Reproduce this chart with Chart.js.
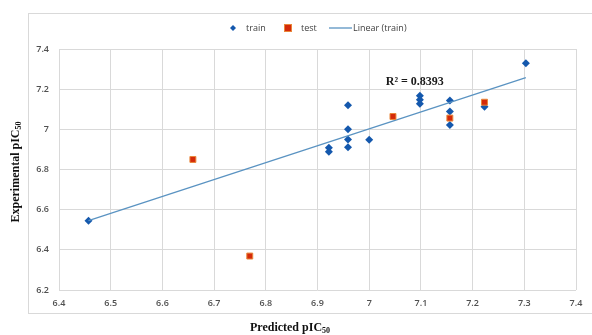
<!DOCTYPE html>
<html>
<head>
<meta charset='utf-8' />
<title>pIC50 scatter</title>
<script src="https://cdn.jsdelivr.net/npm/chart.js"></script>
<style>
body { margin:0; padding:0; background:#fff; overflow:hidden; }
#scatter { display:block; }
</style>
</head>
<body>
<canvas id="scatter" width="592" height="335"></canvas>
<script>

// ---- data ----
const trainX = [6.457, 6.922, 6.922, 6.959, 6.959, 6.959, 6.959, 7.000, 7.098, 7.098, 7.098, 7.156, 7.156, 7.156, 7.223, 7.303];
const trainY = [6.545, 6.908, 6.888, 7.120, 7.001, 6.950, 6.911, 6.948, 7.167, 7.147, 7.127, 7.144, 7.089, 7.022, 7.112, 7.329];

const testX = [6.659, 6.769, 7.046, 7.156, 7.223];
const testY = [6.850, 6.369, 7.064, 7.056, 7.135];

// trendline end points (Linear (train))
const trendX = [6.457, 7.303];
const trendY = [6.545, 7.258];

const xTicks = [6.4, 6.5, 6.6, 6.7, 6.8, 6.9, 7, 7.1, 7.2, 7.3, 7.4];
const yTicks = [6.2, 6.4, 6.6, 6.8, 7, 7.2, 7.4];

const legendLabels = ['train', 'test', 'Linear (train)'];
const r2Text = 'R² = 0.8393';

const toPts = (xs, ys) => xs.map((x, i) => ({x: x, y: ys[i]}));

const trainColor = '#1458ad';
const testFill = '#d42a0a';
const testBorder = '#e9873a';
const lineColor = '#5a93c2';
const tickColor = '#505050';
const gridColor = '#d9d9d9';

/*************************************************/
/* extra drawing: frame, legend, titles, R2      */
/*************************************************/

const drawDiamond = (ctx, x, y, r) => {
  ctx.beginPath();
  ctx.moveTo(x, y - r);
  ctx.lineTo(x + r, y);
  ctx.lineTo(x, y + r);
  ctx.lineTo(x - r, y);
  ctx.closePath();
  ctx.fillStyle = trainColor;
  ctx.fill();
};

const drawSquare = (ctx, x, y, r) => {
  ctx.fillStyle = testFill;
  ctx.fillRect(x - r, y - r, r * 2, r * 2);
  ctx.strokeStyle = testBorder;
  ctx.lineWidth = 1;
  ctx.strokeRect(x - r, y - r, r * 2, r * 2);
};

const drawSubText = (ctx, main, sub, x, y, size) => {
  // draws main + subscript, starting at x (left aligned), baseline y
  ctx.font = 'bold ' + size + 'px "Liberation Serif"';
  ctx.fillText(main, x, y);
  const w = ctx.measureText(main).width;
  ctx.font = 'bold ' + Math.round(size * 0.68) + 'px "Liberation Serif"';
  ctx.fillText(sub, x + w, y + 2);
  return w + ctx.measureText(sub).width;
};

const extras = {
  id: 'extras',
  beforeDraw(chart) {
    const ctx = chart.ctx;
    ctx.save();
    ctx.fillStyle = '#fff';
    ctx.fillRect(0, 0, chart.width, chart.height);
    ctx.strokeStyle = gridColor;
    ctx.lineWidth = 1;
    ctx.strokeRect(28.5, 13.5, 600, 300);
    ctx.restore();
  },
  afterDraw(chart) {
    const ctx = chart.ctx;
    const xs = chart.scales.x;
    const ys = chart.scales.y;
    ctx.save();

    // legend
    const ly = 28;
    drawDiamond(ctx, 233, ly, 3);
    drawSquare(ctx, 288, ly, 3.5);
    ctx.strokeStyle = lineColor;
    ctx.lineWidth = 1.3;
    ctx.beginPath();
    ctx.moveTo(329, ly);
    ctx.lineTo(352, ly);
    ctx.stroke();
    ctx.fillStyle = '#404040';
    ctx.font = '9px "Open Sans"';
    ctx.textBaseline = 'middle';
    ctx.textAlign = 'left';
    ctx.fillText(legendLabels[0], 246, ly);
    ctx.fillText(legendLabels[1], 301, ly);
    ctx.fillText(legendLabels[2], 353, ly);

    // R2 label
    ctx.fillStyle = '#1a1a1a';
    ctx.textBaseline = 'alphabetic';
    ctx.font = 'bold 12px "Liberation Serif"';
    ctx.fillText(r2Text, xs.getPixelForValue(7.032), ys.getPixelForValue(7.222));

    // x title
    ctx.fillStyle = '#111';
    ctx.font = 'bold 12px "Liberation Serif"';
    const mx = ctx.measureText('Predicted pIC').width;
    ctx.font = 'bold 8px "Liberation Serif"';
    const tw = mx + ctx.measureText('50').width;
    drawSubText(ctx, 'Predicted pIC', '50', 290 - tw / 2, 331, 12);

    // y title (rotated)
    ctx.translate(19, 172);
    ctx.rotate(-Math.PI / 2);
    ctx.font = 'bold 12px "Liberation Serif"';
    const my = ctx.measureText('Experimental pIC').width;
    ctx.font = 'bold 8px "Liberation Serif"';
    const tw2 = my + ctx.measureText('50').width;
    drawSubText(ctx, 'Experimental pIC', '50', -tw2 / 2, 0, 12);

    ctx.restore();
  }
};

/*************************************************/
/* chart.js                                      */
/*************************************************/

const ctx = document.getElementById('scatter');

const chart = new Chart(ctx, {
  type: 'scatter',
  data: {
    datasets: [
      {
        label: legendLabels[1],
        data: toPts(testX, testY),
        pointStyle: 'rect',
        pointRadius: 4.2,
        backgroundColor: testFill,
        borderColor: testBorder,
        borderWidth: 1,
        order: 0
      },
      {
        label: legendLabels[2],
        type: 'line',
        data: toPts(trendX, trendY),
        borderColor: lineColor,
        borderWidth: 1.3,
        pointRadius: 0,
        fill: false,
        order: 1
      },
      {
        label: legendLabels[0],
        data: toPts(trainX, trainY),
        pointStyle: 'rectRot',
        pointRadius: 4,
        backgroundColor: trainColor,
        borderColor: trainColor,
        borderWidth: 0,
        order: 2
      }
    ]
  },
  options: {
    responsive: false,
    animation: false,
    devicePixelRatio: 1,
    layout: {
      padding: { top: 49, left: 0, right: 16, bottom: 0 }
    },
    plugins: {
      legend: { display: false },
      tooltip: { enabled: false }
    },
    scales: {
      x: {
        type: 'linear',
        min: 6.4,
        max: 7.4,
        afterBuildTicks: (s) => { s.ticks = xTicks.map(v => ({value: v})); },
        afterFit: (s) => { s.height = 45; },
        border: { display: false },
        grid: { color: gridColor, drawTicks: false },
        ticks: {
          color: tickColor,
          padding: 8,
          maxRotation: 0,
          font: { family: '"Open Sans"', size: 9, weight: '600' },
          callback: (v) => String(Math.round(v * 10) / 10)
        }
      },
      y: {
        type: 'linear',
        min: 6.2,
        max: 7.4,
        afterBuildTicks: (s) => { s.ticks = yTicks.map(v => ({value: v})); },
        afterFit: (s) => { s.width = 59; },
        border: { display: false },
        grid: { color: gridColor, drawTicks: false },
        ticks: {
          color: tickColor,
          padding: 10,
          font: { family: '"Open Sans"', size: 9, weight: '600' },
          callback: (v) => String(Math.round(v * 10) / 10)
        }
      }
    }
  },
  plugins: [extras]
});

</script>
</body>
</html>
